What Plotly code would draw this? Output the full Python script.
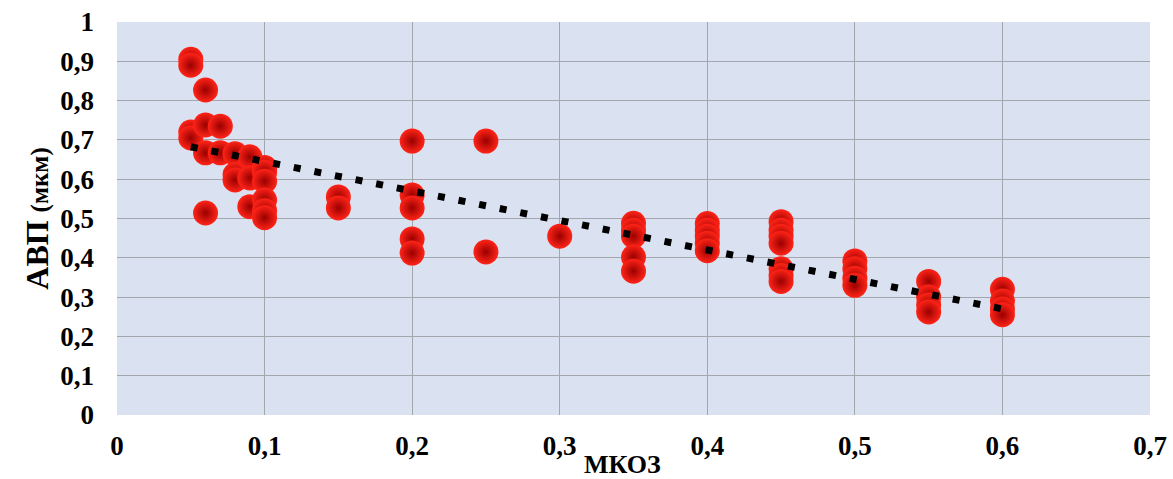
import plotly.graph_objects as go

# Scatter data (МКОЗ vs АВП)
mkoz = [0.05, 0.05, 0.05, 0.05,
        0.06, 0.06, 0.06, 0.06,
        0.07, 0.07,
        0.08, 0.08, 0.08,
        0.09, 0.09, 0.09,
        0.10, 0.10, 0.10, 0.10, 0.10, 0.10,
        0.15, 0.15,
        0.20, 0.20, 0.20, 0.20, 0.20,
        0.25, 0.25,
        0.30,
        0.35, 0.35, 0.35, 0.35, 0.35,
        0.40, 0.40, 0.40, 0.40, 0.40,
        0.45, 0.45, 0.45, 0.45, 0.45, 0.45, 0.45,
        0.50, 0.50, 0.50, 0.50,
        0.55, 0.55, 0.55, 0.55,
        0.60, 0.60, 0.60, 0.60]
avp = [0.905, 0.89, 0.72, 0.705,
       0.827, 0.738, 0.667, 0.514,
       0.735, 0.667,
       0.665, 0.612, 0.598,
       0.657, 0.603, 0.530,
       0.630, 0.618, 0.595, 0.547, 0.520, 0.502,
       0.555, 0.527,
       0.697, 0.560, 0.527, 0.448, 0.412,
       0.697, 0.415,
       0.455,
       0.488, 0.470, 0.455, 0.402, 0.366,
       0.487, 0.470, 0.455, 0.437, 0.418,
       0.492, 0.470, 0.455, 0.437, 0.372, 0.355, 0.340,
       0.392, 0.372, 0.348, 0.330,
       0.340, 0.300, 0.280, 0.262,
       0.320, 0.290, 0.270, 0.255]

# Linear trendline endpoints
trend_x = [0.05, 0.60]
trend_y = [0.6825, 0.27]

x_ticks = [0, 0.1, 0.2, 0.3, 0.4, 0.5, 0.6, 0.7]
y_ticks = [0, 0.1, 0.2, 0.3, 0.4, 0.5, 0.6, 0.7, 0.8, 0.9, 1]

FONT = "Liberation Serif"
TICKSIZE = 27

fig = go.Figure()
fig.add_trace(go.Scatter(
    x=mkoz, y=avp, mode="markers",
    marker=dict(size=25, color="#ff2418",
                gradient=dict(type="radial", color="#9a0000"),
                line=dict(width=0)),
    showlegend=False, hoverinfo="x+y"))
fig.add_trace(go.Scatter(
    x=trend_x, y=trend_y, mode="lines",
    line=dict(color="black", width=7, dash="7px,14px"),
    showlegend=False, hoverinfo="skip"))

fig.update_layout(
    width=1173, height=479,
    margin=dict(l=117, r=23, t=22, b=64, autoexpand=False),
    paper_bgcolor="white",
    plot_bgcolor="#dae2f2",
    separators=", ",
    font=dict(family=FONT, size=TICKSIZE, color="black"),
    xaxis=dict(range=[0, 0.7], tickvals=x_ticks, tickformat=".1~f",
               showgrid=True, gridcolor="#a3a7ad", gridwidth=1,
               zeroline=False, showline=False,
               tickfont=dict(family=FONT, size=TICKSIZE, color="black", weight="bold"),
               ticklabelstandoff=12),
    yaxis=dict(range=[0, 1], tickvals=y_ticks, tickformat=".1~f",
               showgrid=True, gridcolor="#a3a7ad", gridwidth=1,
               zeroline=False, showline=False,
               tickfont=dict(family=FONT, size=TICKSIZE, color="black", weight="bold"),
               ticklabelstandoff=22,
               title=dict(text="<b>АВП <span style='font-size:25px'>(мкм)</span></b>",
                          font=dict(family=FONT, size=32, color="black"),
                          standoff=2)),
)
fig.add_annotation(
    text="<b>МКОЗ</b>", xref="paper", yref="paper",
    x=0.489, y=-0.125, xanchor="center", yanchor="middle",
    showarrow=False, font=dict(family=FONT, size=26, color="black"))

fig.write_html("out.html", config={"displayModeBar": False},
               post_script="document.body.style.margin='0';")
